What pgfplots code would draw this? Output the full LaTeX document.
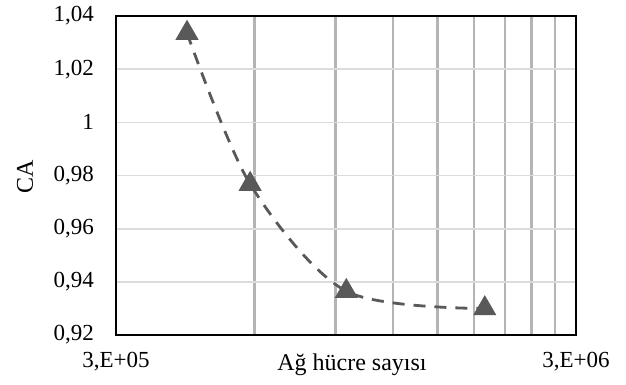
\documentclass[border=0pt]{standalone}
\usepackage{pgfplots}
\pgfplotsset{compat=1.18}
\usepackage{fontspec}
\setmainfont{Liberation Serif}
\definecolor{ser}{HTML}{595959}
\definecolor{gx}{HTML}{B4B4B4}
\definecolor{gy}{HTML}{DCDCDC}
\begin{document}
\begin{tikzpicture}
\begin{axis}[
  scale only axis,
  width=230pt, height=159.5pt,
  xmode=log,
  xmin=3e5, xmax=3e6,
  ymin=0.92, ymax=1.04,
  xtick={3e5,3e6},
  xticklabels={{3,E+05},{3,E+06}},
  minor xtick={6e5,9e5,1.2e6,1.5e6,1.8e6,2.1e6,2.4e6,2.7e6},
  xminorgrids=true,
  minor x grid style={color=gx, line width=1.1pt},
  ytick={0.92,0.94,0.96,0.98,1,1.02,1.04},
  yticklabels={{0,92},{0,94},{0,96},{0,98},{1},{1,02},{1,04}},
  ymajorgrids=true,
  major y grid style={color=gy, line width=0.9pt},
  major tick length=0pt, minor tick length=0pt,
  axis line style={line width=1.4pt, black},
  tick label style={font=\fontsize{11.5}{13}\selectfont},
  yticklabel style={xshift=-7.5pt},
  xticklabel style={yshift=-5pt},
  xlabel={Ağ hücre sayısı},
  ylabel={CA},
  every axis x label/.style={at={(rel axis cs:0.513,0)}, anchor=center, yshift=-15pt, font=\fontsize{12}{14}\selectfont},
  every axis y label/.style={at={(rel axis cs:0,0.495)}, anchor=center, xshift=-45.5pt, rotate=90, font=\fontsize{12}{14}\selectfont},
  clip=false,
]
\addplot[color=ser, line width=1.4pt, dash pattern=on 6pt off 4.5pt, smooth,
  mark=triangle*, mark size=5.3pt, mark options={solid, fill=ser, draw=ser}]
  coordinates {
  (4.28e5,1.0336)
  (5.87e5,0.9768)
  (9.5e5,0.9365)
  (1.9e6,0.9300)
};
\end{axis}
\path (current axis.south west) ++(-58pt,-24.5pt) coordinate (bl);
\path (current axis.north east) ++(25pt,7.5pt) coordinate (tr);
\useasboundingbox (bl) rectangle (tr);
\end{tikzpicture}
\end{document}
